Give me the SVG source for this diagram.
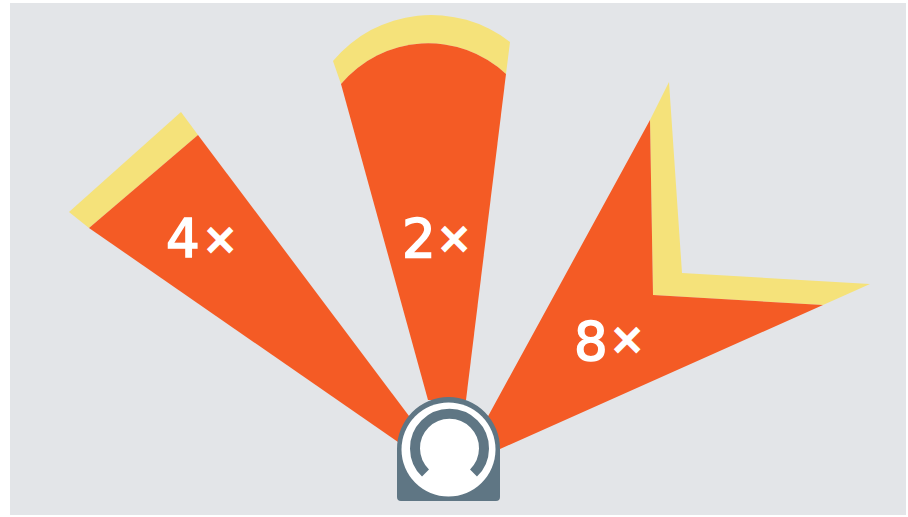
<svg xmlns="http://www.w3.org/2000/svg" width="908" height="517" viewBox="0 0 908 517">
<style>.r{fill:#f45b25}.y{fill:#f5e27a}.t{font-family:"DejaVu Sans","Liberation Sans",sans-serif;fill:#fff;stroke:#fff}.n{font-size:53px;stroke-width:1.600}.x{font-size:41px;stroke-width:2.400}</style>
<rect width="908" height="517" fill="#fff"/>
<rect x="10" y="3" width="896" height="512" fill="#e3e5e8"/>
<g id="connectors"/>
<g id="beam-4x">
<path class="y" d="M69 212L181 112L198 135L89 228Z"/>
<path class="r" d="M89 228L198 135L412 420L398 442Z"/>
<text class="t n" x="166" y="257">4</text><text class="t x" x="203" y="253">×</text>
</g>
<g id="beam-2x">
<path class="y" d="M333 61A128 128 0 0 1 510 42L506 74A114 114 0 0 0 341 84Z"/>
<path class="r" d="M341 84A114 114 0 0 1 506 74L466 400L428 400Z"/>
<text class="t n" x="402" y="257">2</text><text class="t x" x="437" y="252">×</text>
</g>
<g id="beam-8x">
<path class="y" d="M650 120L669 82L682 273L870 284L823 305L653 295Z"/>
<path class="r" d="M650 120L653 295L823 305L500 449L486 420Z"/>
<text class="t n" x="574" y="360">8</text><text class="t x" x="610" y="353">×</text>
</g>
<g id="scanner">
<path d="M397 449A51.500 52 0 0 1 500 449V497Q500 501 496 501H401Q397 501 397 497Z" fill="#5f7684"/>
<circle cx="448.500" cy="449.500" r="47" fill="#fff"/>
<path d="M425.500 473A34.500 34.500 0 1 1 473.500 473" fill="none" stroke="#5f7684" stroke-width="10"/>
</g>
</svg>
